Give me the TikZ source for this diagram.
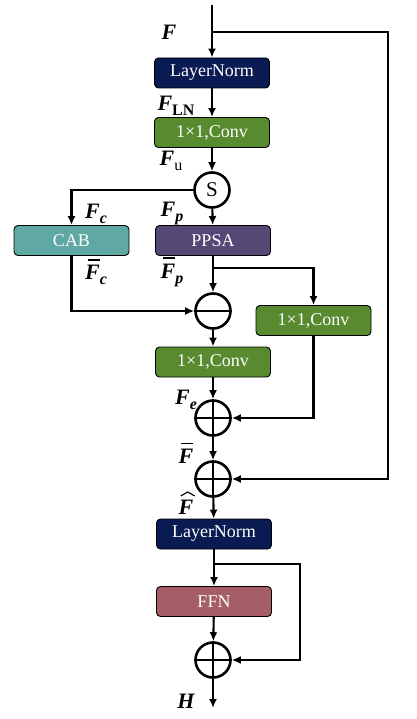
\documentclass[tikz,border=0pt]{standalone}
\usepackage{fontspec}
\setmainfont{Liberation Serif}
\usetikzlibrary{arrows.meta}
\definecolor{cnavy}{RGB}{10,26,82}
\definecolor{cgreen}{RGB}{88,138,48}
\definecolor{cteal}{RGB}{96,168,164}
\definecolor{cpurple}{RGB}{85,72,118}
\definecolor{cred}{RGB}{166,94,102}
\newcommand\barF{\makebox[0pt][l]{\hspace{2.5pt}\raisebox{19pt}{\rule{12pt}{1.7pt}}}F}
\newcommand\hatF{\makebox[0pt][l]{\hspace{1.5pt}\raisebox{18pt}{\tikz[x=1pt,y=1pt,line width=1.1pt]\draw (0,0) -- (7,4) -- (14,0);}}F}
\newcommand\subs[1]{\raisebox{-5pt}{\fontsize{16}{16}\selectfont #1}}
\tikzset{
  blk/.style={draw=black, line width=0.9pt, rounded corners=4pt, minimum width=115pt,
    minimum height=30pt, text=white, font=\fontsize{18}{20}\selectfont, inner sep=0pt},
  op/.style={circle, draw=black, line width=2.6pt, minimum size=35pt, inner sep=0pt},
  conn/.style={line width=2.1pt, -{Latex[length=9pt,width=8pt]}},
  lbl/.style={font=\fontsize{22}{23}\selectfont\bfseries\itshape, inner sep=0pt},
}
\begin{document}
\begin{tikzpicture}[x=1pt,y=-1pt]
\useasboundingbox (0,0) rectangle (416,719);
% blocks
\node[blk, fill=cnavy] (ln1) at (212,73) {LayerNorm};
\node[blk, fill=cgreen] (cv1) at (212,132.5) {1×1,Conv};
\node[op, font=\fontsize{21}{21}\selectfont] (s) at (212,190) {S};
\node[blk, fill=cteal] (cab) at (71.5,240.5) {CAB};
\node[blk, fill=cpurple] (ppsa) at (213,240.5) {PPSA};
\node[op] (mn) at (213,311) {};
\node[blk, fill=cgreen] (cvr) at (313.5,320.5) {1×1,Conv};
\node[blk, fill=cgreen] (cv2) at (213,362) {1×1,Conv};
\node[op] (p1) at (213,418) {};
\node[op] (p2) at (213,479) {};
\node[blk, fill=cnavy] (ln2) at (214,534) {LayerNorm};
\node[blk, fill=cred] (ffn) at (214,601.5) {FFN};
\node[op] (p3) at (213,660) {};
% operator strokes
\draw[line width=2.3pt] (mn.west) -- (mn.east);
\draw[line width=2.3pt] (p1.west) -- (p1.east) (p1.north) -- (p1.south);
\draw[line width=2.3pt] (p2.west) -- (p2.east) (p2.north) -- (p2.south);
\draw[line width=2.3pt] (p3.west) -- (p3.east) (p3.north) -- (p3.south);
% coordinates
\coordinate (top) at (212,5);
\coordinate (br1) at (212,32);
\coordinate (r1) at (388,32);
\coordinate (br2) at (213,268);
\coordinate (br3) at (213,564);
\coordinate (r3) at (300,564);
\coordinate (out) at (213,708);
% connectors
\draw[conn] (top) -- (ln1);
\draw[conn] (br1) -- (r1) |- (p2.east);
\draw[conn] (ln1) -- (cv1);
\draw[conn] (cv1) -- (s);
\draw[conn] (s.west) -| (cab.north);
\draw[conn] (s) -- (ppsa);
\draw[conn] (ppsa) -- (mn);
\draw[conn] (br2) -| (cvr.north);
\draw[conn] (cab.south) |- (mn.west);
\draw[conn] (mn) -- (cv2);
\draw[conn] (cv2) -- (p1);
\draw[conn] (cvr.south) |- (p1.east);
\draw[conn] (p1) -- (p2);
\draw[conn] (p2) -- (ln2);
\draw[conn] (ln2) -- (ffn);
\draw[conn] (br3) -- (r3) |- (p3.east);
\draw[conn] (ffn) -- (p3);
\draw[conn] (p3) -- (out);
% labels
\node[lbl] (lF) at (169,32) {F};
\node[lbl] (lFLN) at (176,106) {F\subs{\upshape LN}};
\node[lbl] (lFu) at (171,161) {F\subs{\mdseries\upshape u}};
\node[lbl] (lFc) at (96,214) {F\subs{c}};
\node[lbl] (lFp) at (172,214) {F\subs{p}};
\node[lbl] (lFcb) at (96,272) {\barF\subs{c}};
\node[lbl] (lFpb) at (172,272) {\barF\subs{p}};
\node[lbl] (lFe) at (186,400) {F\subs{e}};
\node[lbl] (lFb) at (186,453) {\barF};
\node[lbl] (lFh) at (186,503) {\hatF};
\node[lbl] (lH) at (186,701) {H};
\end{tikzpicture}
\end{document}
